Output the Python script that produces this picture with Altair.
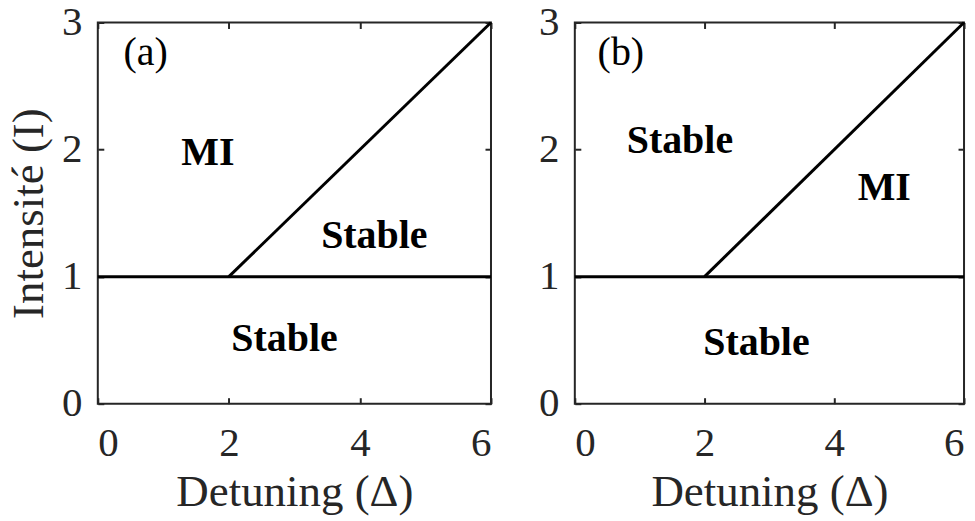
import altair as alt
import pandas as pd

# Phase-boundary segments (detuning Δ, intensity I)
seg_x0 = [0, 2]
seg_y0 = [1, 1]
seg_x1 = [6, 6]
seg_y1 = [1, 3]

# Region labels for each panel
labels_a_text = ["MI", "Stable", "Stable"]
labels_a_x = [1.68, 4.22, 2.85]
labels_a_y = [1.97, 1.32, 0.51]

labels_b_text = ["Stable", "MI", "Stable"]
labels_b_x = [1.62, 4.77, 2.80]
labels_b_y = [2.07, 1.70, 0.48]

tags = ["(a)", "(b)"]
tag_x = [0.73, 0.71]
tag_y = [2.76, 2.76]

x_ticks = [0, 2, 4, 6]
y_ticks = [0, 1, 2, 3]

FONT = "Liberation Serif"
INK = "#262626"
TICK = 6

segments = pd.DataFrame({"x": seg_x0, "y": seg_y0, "x2": seg_x1, "y2": seg_y1})

xscale = alt.Scale(domain=[0, 6], nice=False, zero=False)
yscale = alt.Scale(domain=[0, 3], nice=False, zero=False)


def panel(lab_text, lab_x, lab_y, tag, tx, ty, y_title, width):
    x_bottom = alt.X(
        "x:Q", scale=xscale, title="Detuning (Δ)",
        axis=alt.Axis(orient="bottom", values=x_ticks, domain=False, grid=False,
                      tickSize=TICK, offset=-TICK, labelPadding=20, titlePadding=6),
    )
    if y_title:
        y_axis = alt.Axis(orient="left", values=y_ticks, domain=False, grid=False,
                          tickSize=TICK, offset=-TICK, labelPadding=16, titlePadding=10)
        y_left = alt.Y("y:Q", scale=yscale, title=y_title, axis=y_axis)
    else:
        y_axis = alt.Axis(orient="left", values=y_ticks, domain=False, grid=False,
                          tickSize=TICK, offset=-TICK, labelPadding=16)
        y_left = alt.Y("y:Q", scale=yscale, title=None, axis=y_axis)

    lines = alt.Chart(segments).mark_rule(color="black", strokeWidth=3).encode(
        x=x_bottom, y=y_left, x2="x2:Q", y2="y2:Q"
    )

    # inward ticks on the top and right edges, no labels
    frame_df = pd.DataFrame({"x": [0], "y": [0]})
    top_right = alt.Chart(frame_df).mark_point(opacity=0).encode(
        x=alt.X("x:Q", scale=xscale, title=None,
                axis=alt.Axis(orient="top", values=x_ticks, domain=False, grid=False,
                              labels=False, tickSize=TICK, offset=-TICK)),
        y=alt.Y("y:Q", scale=yscale, title=None,
                axis=alt.Axis(orient="right", values=y_ticks, domain=False, grid=False,
                              labels=False, tickSize=TICK, offset=-TICK)),
    )

    lab_df = pd.DataFrame({"t": lab_text, "x": lab_x, "y": lab_y})
    region_text = alt.Chart(lab_df).mark_text(
        font=FONT, fontSize=40, fontWeight="bold", color="black"
    ).encode(
        x=alt.X("x:Q", scale=xscale, axis=None),
        y=alt.Y("y:Q", scale=yscale, axis=None),
        text="t:N",
    )

    tag_df = pd.DataFrame({"t": [tag], "x": [tx], "y": [ty]})
    tag_text = alt.Chart(tag_df).mark_text(
        font=FONT, fontSize=40, color="black"
    ).encode(
        x=alt.X("x:Q", scale=xscale, axis=None),
        y=alt.Y("y:Q", scale=yscale, axis=None),
        text="t:N",
    )

    return (
        alt.layer(lines, top_right, region_text, tag_text)
        .resolve_axis(x="independent", y="independent")
        .properties(width=width, height=382)
    )


pa = panel(labels_a_text, labels_a_x, labels_a_y, tags[0], tag_x[0], tag_y[0],
           "Intensité (I)", 394)
pb = panel(labels_b_text, labels_b_x, labels_b_y, tags[1], tag_x[1], tag_y[1],
           None, 390)

chart = (
    alt.hconcat(pa, pb, spacing=43)
    .properties(padding={"left": 5, "top": 0, "right": 8, "bottom": 0})
    .configure(font=FONT)
    .configure_view(stroke=INK, strokeWidth=2)
    .configure_axis(
        labelFont=FONT, titleFont=FONT, labelFontSize=41, titleFontSize=45,
        labelColor=INK, titleColor=INK, tickColor=INK, tickWidth=2,
        titleFontWeight="normal",
    )
)

chart.save("out.html", embed_options={"renderer": "svg", "actions": False})
